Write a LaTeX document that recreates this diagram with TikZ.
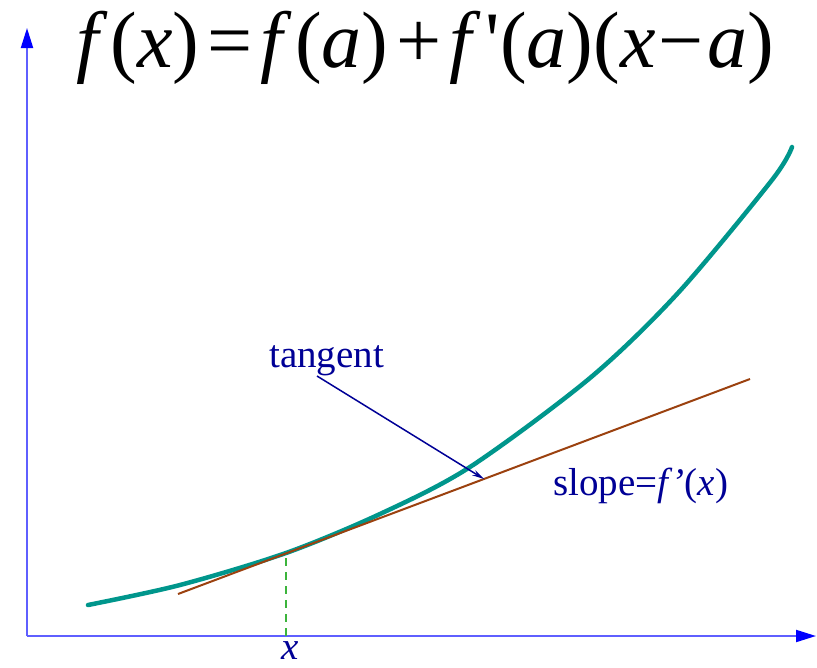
\documentclass[tikz,border=0pt]{standalone}
\usepackage{fontspec}
\setmainfont{Liberation Serif}
\newfontfamily\titlefont[Ligatures=TeXOff]{Liberation Serif}
\usetikzlibrary{arrows.meta}
\definecolor{axisblue}{RGB}{95,95,255}
\definecolor{tipblue}{RGB}{0,0,255}
\definecolor{curveteal}{RGB}{0,150,140}
\definecolor{tanbrown}{RGB}{155,65,15}
\definecolor{labelnavy}{RGB}{0,0,150}
\definecolor{dashgreen}{RGB}{60,180,60}
\begin{document}
\begin{tikzpicture}[x=1pt,y=-1pt,
  axis/.style={draw=axisblue, line width=2pt, -{Triangle[length=20pt,width=12pt,color=tipblue]}},
  lbl/.style={text=labelnavy, font=\fontsize{39}{46}\selectfont, inner sep=0pt},
  curvestyle/.style={draw=curveteal, line width=4.5pt, line cap=round},
  tanstyle/.style={draw=tanbrown, line width=2pt},
  dropstyle/.style={draw=dashgreen, line width=2pt, dash pattern=on 8pt off 6pt},
  pointer/.style={draw=labelnavy, line width=1.5pt, -{Stealth[length=12pt,width=6pt]}}
]
\useasboundingbox (0,0) rectangle (817,667);
% axes
\coordinate (O) at (27,636);
\coordinate (ytip) at (27,28);
\coordinate (xtip) at (816,636);
\draw[axis] (O) -- (ytip);
\draw[axis] (O) -- (xtip);
% title
\node[anchor=base, inner sep=0pt, font=\titlefont\fontsize{80}{90}\selectfont] (title) at (425,67)
  {\textit{f}\hspace{0.04em}(\textit{x})\hspace{0.1em}=\hspace{0.1em}\textit{f}\hspace{0.04em}(\textit{a})\hspace{0.1em}+\hspace{0.1em}\textit{f}\hspace{0.06em}'(\textit{a})(\textit{x}\hspace{0.04em}−\hspace{0.04em}\textit{a})};
% curve
\draw[curvestyle] plot[smooth] coordinates {(88,605) (180,585) (286,553) (380,514) (470,467) (590,378) (678,293) (772,180) (792,147)};
% tangent
\coordinate (t1) at (178,594);
\coordinate (t2) at (750,379);
\draw[tanstyle] (t1) -- (t2);
% drop line
\coordinate (a) at (286,558);
\draw[dropstyle] (a) -- (a |- O);
% labels
\node[lbl, anchor=base west] (tang) at (269,367) {tangent};
\coordinate (pstart) at (317,376);
\coordinate (ptip) at (484,479);
\draw[pointer] (pstart) -- (ptip);
\node[lbl, anchor=base west] (slope) at (553,495) {slope=\textit{f’}(\textit{x})};
\node[lbl, anchor=base] (xl) at (290,659) {\textit{x}};
\end{tikzpicture}
\end{document}
